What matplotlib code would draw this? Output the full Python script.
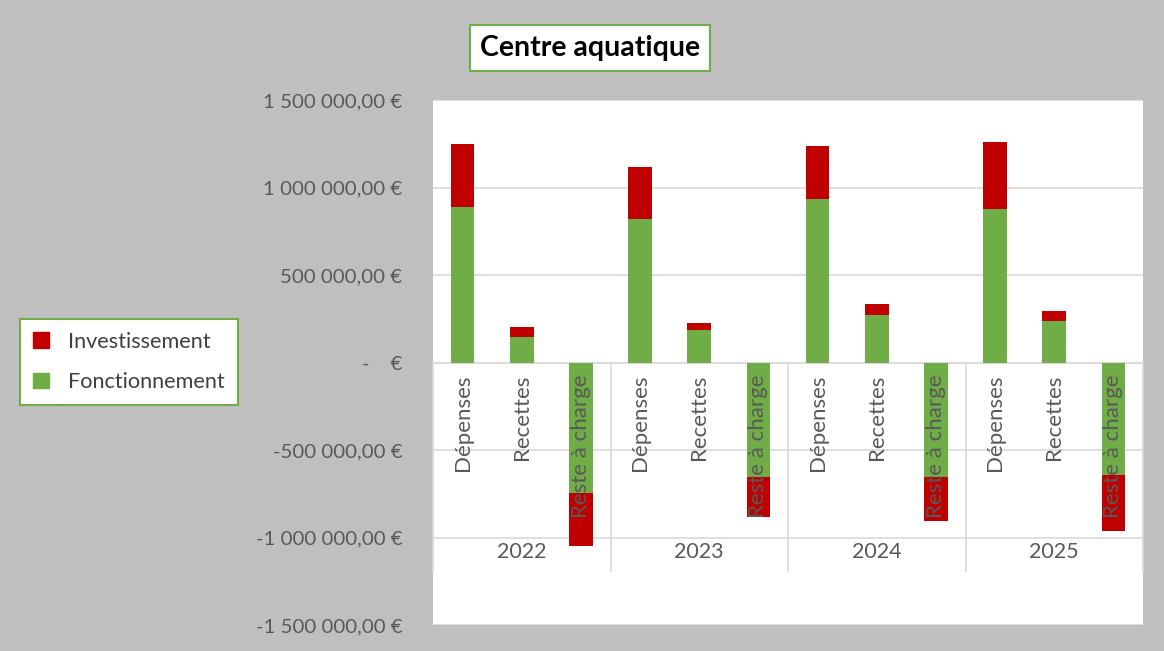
import matplotlib.pyplot as plt
import matplotlib.transforms as mtransforms
from matplotlib.patches import Patch
from matplotlib.ticker import FuncFormatter, MultipleLocator
import numpy as np

plt.rcParams['font.family'] = ['Lato', 'DejaVu Sans']

years = ['2022', '2023', '2024', '2025']
categories = ['Dépenses', 'Recettes', 'Reste à charge']

# one value per bar: (Dépenses, Recettes, Reste à charge) for each year
fonctionnement = [889000, 149000, -747000,
                  821000, 184000, -652000,
                  933000, 271000, -652000,
                  877000, 236000, -641000]
investissement = [361000, 54000, -302000,
                  300000, 42000, -230000,
                  303000, 62000, -255000,
                  384000, 60000, -324000]

GREEN = '#70AD47'
RED = '#C00000'
GRID = '#D9D9D9'
TXT = '#595959'


def euro(v, pos=None):
    if abs(v) < 1:
        return '-    €'
    s = f"{abs(v):,.2f}".replace(',', ' ').replace('.', ',')
    return ('-' if v < 0 else '') + s + ' €'


fig = plt.figure(figsize=(11.64, 6.51), dpi=100, facecolor='#BFBFBF')
ax = fig.add_axes([0.372, 0.040, 0.610, 0.806])
ax.set_facecolor('white')

x = np.arange(len(fonctionnement))
ax.bar(x, fonctionnement, width=0.4, color=GREEN, zorder=3)
ax.bar(x, investissement, width=0.4, bottom=fonctionnement, color=RED, zorder=3)

ax.set_ylim(-1500000, 1500000)
ax.set_xlim(-0.5, len(x) - 0.5)
ax.yaxis.set_major_locator(MultipleLocator(500000))
ax.yaxis.set_major_formatter(FuncFormatter(euro))
ax.yaxis.grid(True, color=GRID, lw=1.2, zorder=1)
ax.set_xticks([])
ax.tick_params(axis='y', length=0, pad=22, labelsize=14.7, labelcolor=TXT)
for sp in ax.spines.values():
    sp.set_visible(False)

# multi-level category axis hanging at zero
ax.axhline(0, color=GRID, lw=1.2, zorder=2)
for b in np.arange(-0.5, len(x), 3):
    ax.plot([b, b], [0, -1190000], color=GRID, lw=1.2, zorder=2, clip_on=False)

below = mtransforms.offset_copy(ax.transData, fig=fig, x=0, y=-12, units='dots')
for i in x:
    ax.text(i, 0, categories[i % 3], rotation=90, ha='center', va='top',
            fontsize=16, color=TXT, transform=below, zorder=5)
for g, yr in enumerate(years):
    ax.text(3 * g + 1, -1083000, yr, ha='center', va='center',
            fontsize=15.5, color=TXT, zorder=5)

fig.text(0.507, 0.926, 'Centre aquatique', ha='center', va='center',
         fontsize=20.5, fontweight='bold', color='black',
         bbox=dict(boxstyle='square,pad=0.35', fc='white', ec=GREEN, lw=1.5))

handles = [Patch(color=RED), Patch(color=GREEN)]
leg = fig.legend(handles, ['Investissement', 'Fonctionnement'],
                 loc='center', bbox_to_anchor=(0.111, 0.444),
                 fontsize=15.6, frameon=True, fancybox=False,
                 facecolor='white', framealpha=1,
                 handlelength=0.7, handleheight=0.7, handletextpad=0.9,
                 labelspacing=0.95, borderpad=0.6, borderaxespad=0)
leg.get_frame().set_edgecolor(GREEN)
leg.get_frame().set_linewidth(1.5)
for t in leg.get_texts():
    t.set_color('#404040')

fig.savefig('out.png', dpi=100, facecolor=fig.get_facecolor())
